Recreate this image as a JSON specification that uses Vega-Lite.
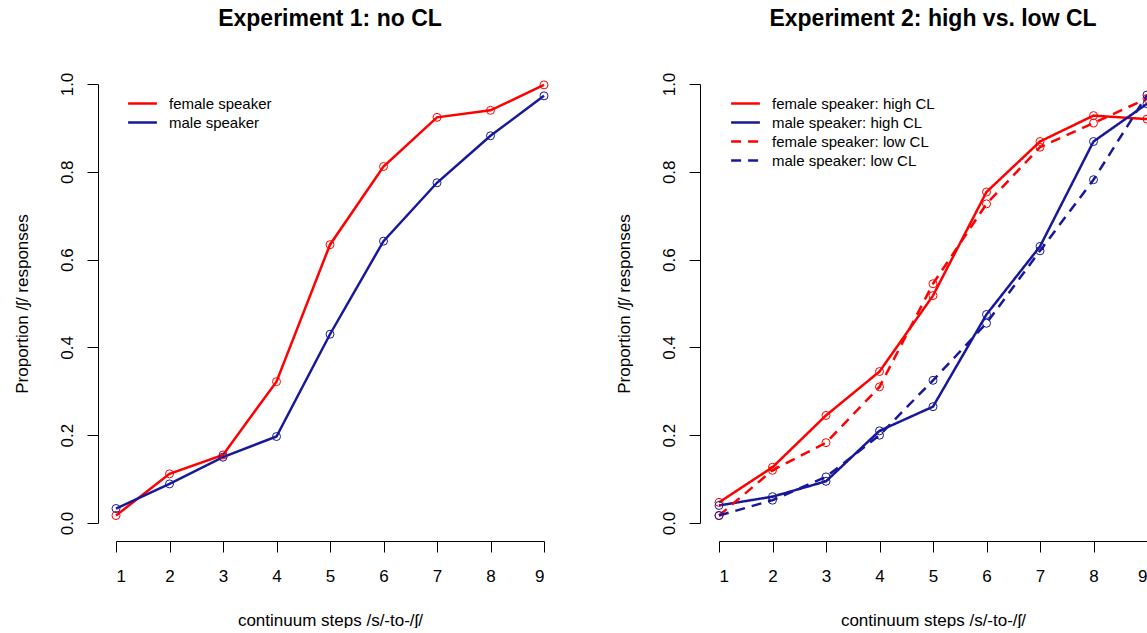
{
  "$schema": "https://vega.github.io/schema/vega-lite/v6.json",
  "padding": {"left": 13, "top": 8, "right": 0, "bottom": 0},
  "autosize": {"type": "pad"},
  "background": "white",
  "bounds": "flush",
  "spacing": 175,
  "config": {
    "font": "Liberation Sans",
    "view": {"stroke": null},
    "axis": {
      "domainColor": "#000000", "tickColor": "#000000", "labelColor": "#000000", "titleColor": "#000000",
      "domainWidth": 1, "tickWidth": 1, "tickSize": 11, "grid": false,
      "labelFontSize": 17, "titleFontSize": 17, "titleFontWeight": "normal", "offset": 18
    },
    "legend": {
      "title": null, "orient": "none", "legendX": 16, "legendY": 9,
      "symbolType": "M-1.6,0H1.6", "symbolSize": 324, "symbolStrokeWidth": 2.5, "symbolFillColor": "transparent",
      "labelFontSize": 15, "labelOffset": 16, "labelLimit": 0, "labelColor": "#000000", "rowPadding": -2
    },
    "title": {"fontSize": 23, "fontWeight": "bold", "color": "#000000", "anchor": "middle", "offset": 41}
  },
  "datasets": {
    "exp1": [
      {"step": 1, "prop": 0.017, "speaker": "female speaker"},
      {"step": 2, "prop": 0.112, "speaker": "female speaker"},
      {"step": 3, "prop": 0.155, "speaker": "female speaker"},
      {"step": 4, "prop": 0.322, "speaker": "female speaker"},
      {"step": 5, "prop": 0.634, "speaker": "female speaker"},
      {"step": 6, "prop": 0.812, "speaker": "female speaker"},
      {"step": 7, "prop": 0.924, "speaker": "female speaker"},
      {"step": 8, "prop": 0.940, "speaker": "female speaker"},
      {"step": 9, "prop": 0.998, "speaker": "female speaker"},
      {"step": 1, "prop": 0.033, "speaker": "male speaker"},
      {"step": 2, "prop": 0.089, "speaker": "male speaker"},
      {"step": 3, "prop": 0.150, "speaker": "male speaker"},
      {"step": 4, "prop": 0.197, "speaker": "male speaker"},
      {"step": 5, "prop": 0.430, "speaker": "male speaker"},
      {"step": 6, "prop": 0.642, "speaker": "male speaker"},
      {"step": 7, "prop": 0.775, "speaker": "male speaker"},
      {"step": 8, "prop": 0.882, "speaker": "male speaker"},
      {"step": 9, "prop": 0.973, "speaker": "male speaker"}
    ],
    "exp2": [
      {"step": 1, "prop": 0.047, "series": "female speaker: high CL"},
      {"step": 2, "prop": 0.127, "series": "female speaker: high CL"},
      {"step": 3, "prop": 0.245, "series": "female speaker: high CL"},
      {"step": 4, "prop": 0.345, "series": "female speaker: high CL"},
      {"step": 5, "prop": 0.518, "series": "female speaker: high CL"},
      {"step": 6, "prop": 0.754, "series": "female speaker: high CL"},
      {"step": 7, "prop": 0.869, "series": "female speaker: high CL"},
      {"step": 8, "prop": 0.928, "series": "female speaker: high CL"},
      {"step": 9, "prop": 0.920, "series": "female speaker: high CL"},
      {"step": 1, "prop": 0.040, "series": "male speaker: high CL"},
      {"step": 2, "prop": 0.060, "series": "male speaker: high CL"},
      {"step": 3, "prop": 0.095, "series": "male speaker: high CL"},
      {"step": 4, "prop": 0.210, "series": "male speaker: high CL"},
      {"step": 5, "prop": 0.265, "series": "male speaker: high CL"},
      {"step": 6, "prop": 0.475, "series": "male speaker: high CL"},
      {"step": 7, "prop": 0.630, "series": "male speaker: high CL"},
      {"step": 8, "prop": 0.869, "series": "male speaker: high CL"},
      {"step": 9, "prop": 0.955, "series": "male speaker: high CL"},
      {"step": 1, "prop": 0.017, "series": "female speaker: low CL"},
      {"step": 2, "prop": 0.120, "series": "female speaker: low CL"},
      {"step": 3, "prop": 0.183, "series": "female speaker: low CL"},
      {"step": 4, "prop": 0.310, "series": "female speaker: low CL"},
      {"step": 5, "prop": 0.545, "series": "female speaker: low CL"},
      {"step": 6, "prop": 0.727, "series": "female speaker: low CL"},
      {"step": 7, "prop": 0.856, "series": "female speaker: low CL"},
      {"step": 8, "prop": 0.911, "series": "female speaker: low CL"},
      {"step": 9, "prop": 0.967, "series": "female speaker: low CL"},
      {"step": 1, "prop": 0.017, "series": "male speaker: low CL"},
      {"step": 2, "prop": 0.052, "series": "male speaker: low CL"},
      {"step": 3, "prop": 0.105, "series": "male speaker: low CL"},
      {"step": 4, "prop": 0.200, "series": "male speaker: low CL"},
      {"step": 5, "prop": 0.325, "series": "male speaker: low CL"},
      {"step": 6, "prop": 0.455, "series": "male speaker: low CL"},
      {"step": 7, "prop": 0.620, "series": "male speaker: low CL"},
      {"step": 8, "prop": 0.782, "series": "male speaker: low CL"},
      {"step": 9, "prop": 0.975, "series": "male speaker: low CL"}
    ]
  },
  "resolve": {
    "scale": {"color": "independent", "strokeDash": "independent", "x": "independent", "y": "independent"},
    "legend": {"color": "independent", "strokeDash": "independent"}
  },
  "hconcat": [
    {
      "title": "Experiment 1: no CL",
      "width": 428,
      "height": 439,
      "data": {"name": "exp1"},
      "encoding": {
        "x": {"field": "step", "type": "quantitative",
          "scale": {"domain": [1, 9], "nice": false, "zero": false},
          "axis": {"values": [1,2,3,4,5,6,7,8,9], "format": "d", "title": "continuum steps /s/-to-/ʃ/", "labelPadding": 16, "titlePadding": 28}},
        "y": {"field": "prop", "type": "quantitative",
          "scale": {"domain": [0, 1], "nice": false, "zero": false},
          "axis": {"values": [0,0.2,0.4,0.6,0.8,1], "format": ".1f", "title": "Proportion /ʃ/ responses", "labelAngle": -90, "labelAlign": "center", "labelBaseline": "bottom", "labelPadding": 11, "titlePadding": 27}},
        "color": {"field": "speaker", "type": "nominal",
          "scale": {"domain": ["female speaker", "male speaker"], "range": ["#ff0000", "#18189a"]}}
      },
      "layer": [
        {
          "mark": {"type": "line", "strokeWidth": 2.5},
          "encoding": {
            "color": {"field": "speaker", "type": "nominal",
              "scale": {"domain": ["female speaker", "male speaker"], "range": ["#ff0000", "#18189a"]},
              "legend": {}}
          }
        },
        {
          "mark": {"type": "point", "shape": "circle", "filled": false, "size": 64, "strokeWidth": 1, "opacity": 1},
          "encoding": {
            "color": {"field": "speaker", "type": "nominal", "legend": null}
          }
        }
      ]
    },
    {
      "title": "Experiment 2: high vs. low CL",
      "width": 428,
      "height": 439,
      "data": {"name": "exp2"},
      "encoding": {
        "x": {"field": "step", "type": "quantitative",
          "scale": {"domain": [1, 9], "nice": false, "zero": false},
          "axis": {"values": [1,2,3,4,5,6,7,8,9], "format": "d", "title": "continuum steps /s/-to-/ʃ/", "labelPadding": 16, "titlePadding": 28}},
        "y": {"field": "prop", "type": "quantitative",
          "scale": {"domain": [0, 1], "nice": false, "zero": false},
          "axis": {"values": [0,0.2,0.4,0.6,0.8,1], "format": ".1f", "title": "Proportion /ʃ/ responses", "labelAngle": -90, "labelAlign": "center", "labelBaseline": "bottom", "labelPadding": 11, "titlePadding": 27, "offset": 19}}
      },
      "layer": [
        {
          "mark": {"type": "line", "strokeWidth": 2.5},
          "encoding": {
            "color": {"field": "series", "type": "nominal",
              "scale": {"domain": ["female speaker: high CL", "male speaker: high CL", "female speaker: low CL", "male speaker: low CL"], "range": ["#ff0000", "#18189a", "#ff0000", "#18189a"]},
              "legend": {}},
            "strokeDash": {"field": "series", "type": "nominal",
              "scale": {"domain": ["female speaker: high CL", "male speaker: high CL", "female speaker: low CL", "male speaker: low CL"], "range": [[1, 0], [1, 0], [10, 7], [10, 7]]},
              "legend": {}}
          }
        },
        {
          "mark": {"type": "point", "shape": "circle", "filled": false, "size": 64, "strokeWidth": 1, "opacity": 1},
          "encoding": {
            "color": {"field": "series", "type": "nominal", "legend": null}
          }
        }
      ]
    }
  ]
}
